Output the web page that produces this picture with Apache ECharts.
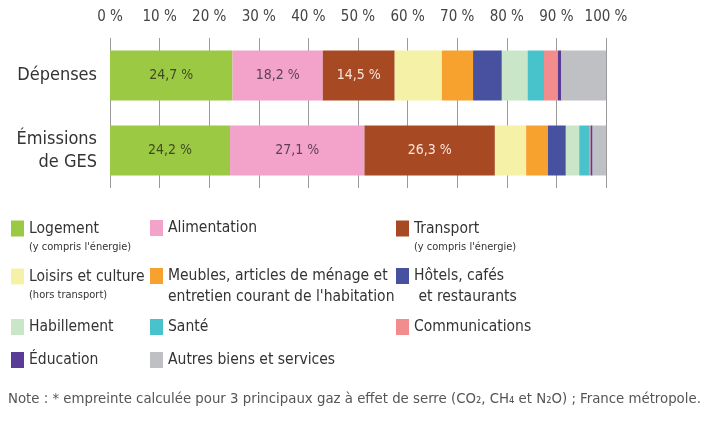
<!DOCTYPE html>
<html>
<head>
<meta charset="utf-8">
<script src="https://cdn.jsdelivr.net/npm/echarts@6/dist/echarts.min.js"></script>
<style>
html, body { margin: 0; padding: 0; background: #fff; }
#chart { width: 713px; height: 421px; }
</style>
</head>
<body>
<div id="chart"></div>
<script>
// catégories (lignes du graphique)
var categories = ['Dépenses', 'Émissions\nde GES'];

// postes de consommation, dans l'ordre d'empilement
var postes = ['Logement', 'Alimentation', 'Transport', 'Loisirs et culture',
	'Meubles', 'Hôtels', 'Habillement', 'Santé', 'Communications',
	'Éducation', 'Autres biens et services'];

// parts en %
var depenses = [24.7, 18.2, 14.5, 9.5, 6.3, 5.8, 5.2, 3.3, 2.8, 0.7, 9.0];
var emissions = [24.2, 27.1, 26.3, 6.3, 4.4, 3.6, 2.7, 2.0, 0.3, 0.4, 2.7];

// valeurs affichées dans les barres (3 premiers postes)
var labelled = ['Logement', 'Alimentation', 'Transport'];

var colors = ['#9bc943', '#f3a3c9', '#a74a23', '#f5f2a7', '#f7a12f', '#4751a0',
	'#c9e6c9', '#48c2cb', '#f28c8d', '#5a3c96', '#bfc0c3'];
var labelColors = ['#3f4a22', '#5e3f55', '#fbe5dc'];

var FONT = '"DejaVu Sans Condensed", "Liberation Sans Narrow", sans-serif';

// texte de légende : ligne principale + sous-ligne éventuelle
var legendText = {
	'Logement' : ['Logement', "(y compris l'énergie)", 'sub'],
	'Alimentation' : ['Alimentation'],
	'Transport' : ['Transport', "(y compris l'énergie)", 'sub'],
	'Loisirs et culture' : ['Loisirs et culture', '(hors transport)', 'sub'],
	'Meubles' : ['Meubles, articles de ménage et', "entretien courant de l'habitation", 'main'],
	'Hôtels' : ['Hôtels, cafés', ' et restaurants', 'main'],
	'Habillement' : ['Habillement'],
	'Santé' : ['Santé'],
	'Communications' : ['Communications'],
	'Éducation' : ['Éducation'],
	'Autres biens et services' : ['Autres biens et services']
};
var legendCol = [11, 150, 396, 11, 150, 396, 11, 150, 396, 11, 150];
var legendRow = [228, 228, 228, 276, 276, 276, 327, 327, 327, 360, 360];

var chart = echarts.init(document.getElementById('chart'));

var LH_MAIN = 21, LH_SUB = 16;

// le texte est centré sur l'icône : une ligne vide en tête, de la hauteur
// des lignes suivantes, ramène la 1re ligne au niveau de l'icône
var legends = postes.map(function(name, i) {
	var t = legendText[name];
	var pad = 0, shift = 2.5, text = '{a|' + t[0] + '}';
	if (t.length > 1) {
		if (t[2] === 'sub') {
			pad = LH_SUB;
			shift = 4.5;
			text = '{p| }\n' + text + '\n{b|' + t[1] + '}';
		} else {
			pad = LH_MAIN;
			shift = 6.5;
			text = '{q| }\n' + text + '\n{a|' + t[1] + '}';
		}
	}
	return {
		data : [name],
		left : legendCol[i],
		top : legendRow[i] - LH_MAIN / 2 - pad + shift,
		padding : 0,
		itemWidth : 13,
		itemHeight : 16,
		selectedMode : false,
		icon : 'rect',
		formatter : function() { return text; },
		textStyle : {
			rich : {
				a : { fontFamily : FONT, fontSize : 15.5, lineHeight : LH_MAIN, color : '#333' },
				b : { fontFamily : FONT, fontSize : 11, lineHeight : LH_SUB, color : '#333' },
				p : { fontSize : 8, lineHeight : LH_SUB },
				q : { fontSize : 8, lineHeight : LH_MAIN }
			}
		}
	};
});

var series = postes.map(function(name, i) {
	var li = labelled.indexOf(name);
	return {
		name : name,
		type : 'bar',
		stack : 'total',
		barWidth : 50,
		itemStyle : { color : colors[i] },
		label : {
			show : li >= 0,
			position : 'inside',
			fontFamily : FONT,
			fontSize : 14,
			color : li >= 0 ? labelColors[li] : '#000',
			formatter : function(p) {
				return p.value.toFixed(1).replace('.', ',') + ' %';
			}
		},
		data : [depenses[i], emissions[i]]
	};
});

var option = {
	animation : false,
	textStyle : { fontFamily : FONT },
	title : {
		text : 'Note : * empreinte calculée pour 3 principaux gaz à effet de serre (CO₂, CH₄ et N₂O) ; France métropole.',
		left : 8,
		top : 392,
		padding : 0,
		textStyle : { fontFamily : FONT, fontSize : 14.8, fontWeight : 'normal', color : '#555' }
	},
	legend : legends,
	grid : {
		left : 110,
		right : 107,
		top : 38,
		bottom : 233
	},
	xAxis : {
		type : 'value',
		position : 'top',
		min : 0,
		max : 100,
		interval : 10,
		axisLine : { show : false },
		axisTick : { show : false },
		axisLabel : {
			margin : 13,
			fontFamily : FONT,
			fontSize : 15,
			color : '#444',
			formatter : '{value} %'
		},
		splitLine : {
			show : true,
			lineStyle : { color : '#9a9a9a', width : 1 }
		}
	},
	yAxis : {
		type : 'category',
		inverse : true,
		data : categories,
		axisLine : { show : false },
		axisTick : { show : false },
		axisLabel : {
			margin : 13,
			fontFamily : FONT,
			fontSize : 18,
			lineHeight : 23,
			color : '#333'
		}
	},
	series : series
};
chart.setOption(option);
</script>
</body>
</html>
